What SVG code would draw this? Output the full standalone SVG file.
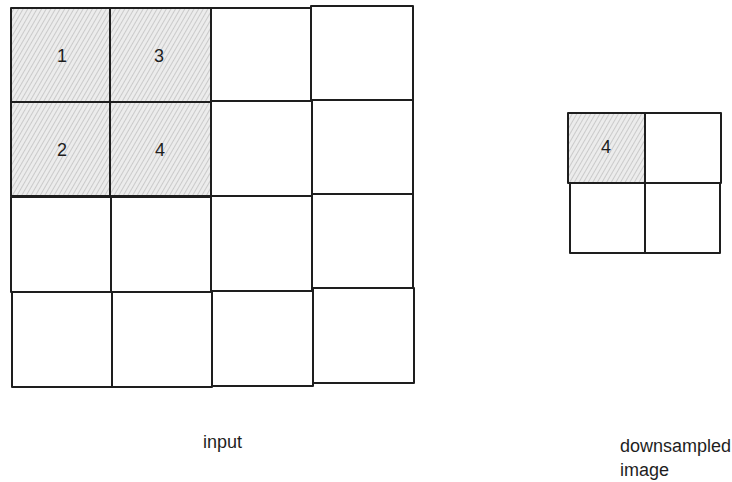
<svg xmlns="http://www.w3.org/2000/svg" width="732" height="482" viewBox="0 0 732 482">
<style>
.cell{fill:none;stroke:#1e1e1e;stroke-width:2;stroke-linejoin:round}
.hatch{fill:url(#hatch);stroke:none}
.lbl{font-family:"Liberation Sans",Arial,sans-serif;font-size:18px;fill:#1e1e1e;text-anchor:middle;dominant-baseline:central}
.cap{font-family:"Liberation Sans",Arial,sans-serif;font-size:18px;fill:#1e1e1e}
</style>
<defs>
<pattern id="hatch" width="4" height="4" patternUnits="userSpaceOnUse" patternTransform="rotate(30)">
<rect width="4" height="4" fill="#ececec"/>
<line x1="0" y1="0" x2="0" y2="4" stroke="#b8b8b8" stroke-width="1.3"/>
</pattern>
</defs>
<rect width="732" height="482" fill="#ffffff"/>
<g id="input-grid">
<g id="c11"><rect class="hatch" x="11" y="8" width="99" height="94"/><rect class="cell" x="11" y="8" width="99" height="94"/><text class="lbl" x="62" y="56">1</text></g>
<g id="c12"><rect class="hatch" x="110" y="8" width="101" height="94"/><rect class="cell" x="110" y="8" width="101" height="94"/><text class="lbl" x="159" y="56">3</text></g>
<g id="c13"><rect class="cell" x="211" y="8" width="100" height="93"/></g>
<g id="c14"><rect class="cell" x="311" y="6" width="102" height="94"/></g>
<g id="c21"><rect class="hatch" x="11" y="102" width="99" height="94"/><rect class="cell" x="11" y="102" width="99" height="94"/><text class="lbl" x="62" y="150">2</text></g>
<g id="c22"><rect class="hatch" x="110" y="102" width="101" height="94"/><rect class="cell" x="110" y="102" width="101" height="94"/><text class="lbl" x="160" y="150">4</text></g>
<g id="c23"><rect class="cell" x="211" y="101" width="101" height="95"/></g>
<g id="c24"><rect class="cell" x="312" y="100" width="101" height="94"/></g>
<g id="c31"><rect class="cell" x="11" y="197" width="100" height="95"/></g>
<g id="c32"><rect class="cell" x="111" y="197" width="100" height="95"/></g>
<g id="c33"><rect class="cell" x="211" y="196" width="101" height="95"/></g>
<g id="c34"><rect class="cell" x="312" y="194" width="101" height="94"/></g>
<g id="c41"><rect class="cell" x="12" y="292" width="100" height="95"/></g>
<g id="c42"><rect class="cell" x="112" y="292" width="100" height="95"/></g>
<g id="c43"><rect class="cell" x="212" y="291" width="101" height="95"/></g>
<g id="c44"><rect class="cell" x="313" y="288" width="101" height="95"/></g>
</g>
<g id="output-grid">
<g id="d11"><rect class="hatch" x="568" y="113" width="77" height="70"/><rect class="cell" x="568" y="113" width="77" height="70"/><text class="lbl" x="606" y="147">4</text></g>
<g id="d12"><rect class="cell" x="645" y="113" width="76" height="70"/></g>
<g id="d21"><rect class="cell" x="570" y="183" width="75" height="70"/></g>
<g id="d22"><rect class="cell" x="645" y="183" width="75" height="70"/></g>
</g>
<g id="connectors"></g>
<g id="captions">
<text class="cap" x="203" y="448">input</text>
<text class="cap" x="620" y="452">downsampled</text>
<text class="cap" x="620" y="476">image</text>
</g>
</svg>
